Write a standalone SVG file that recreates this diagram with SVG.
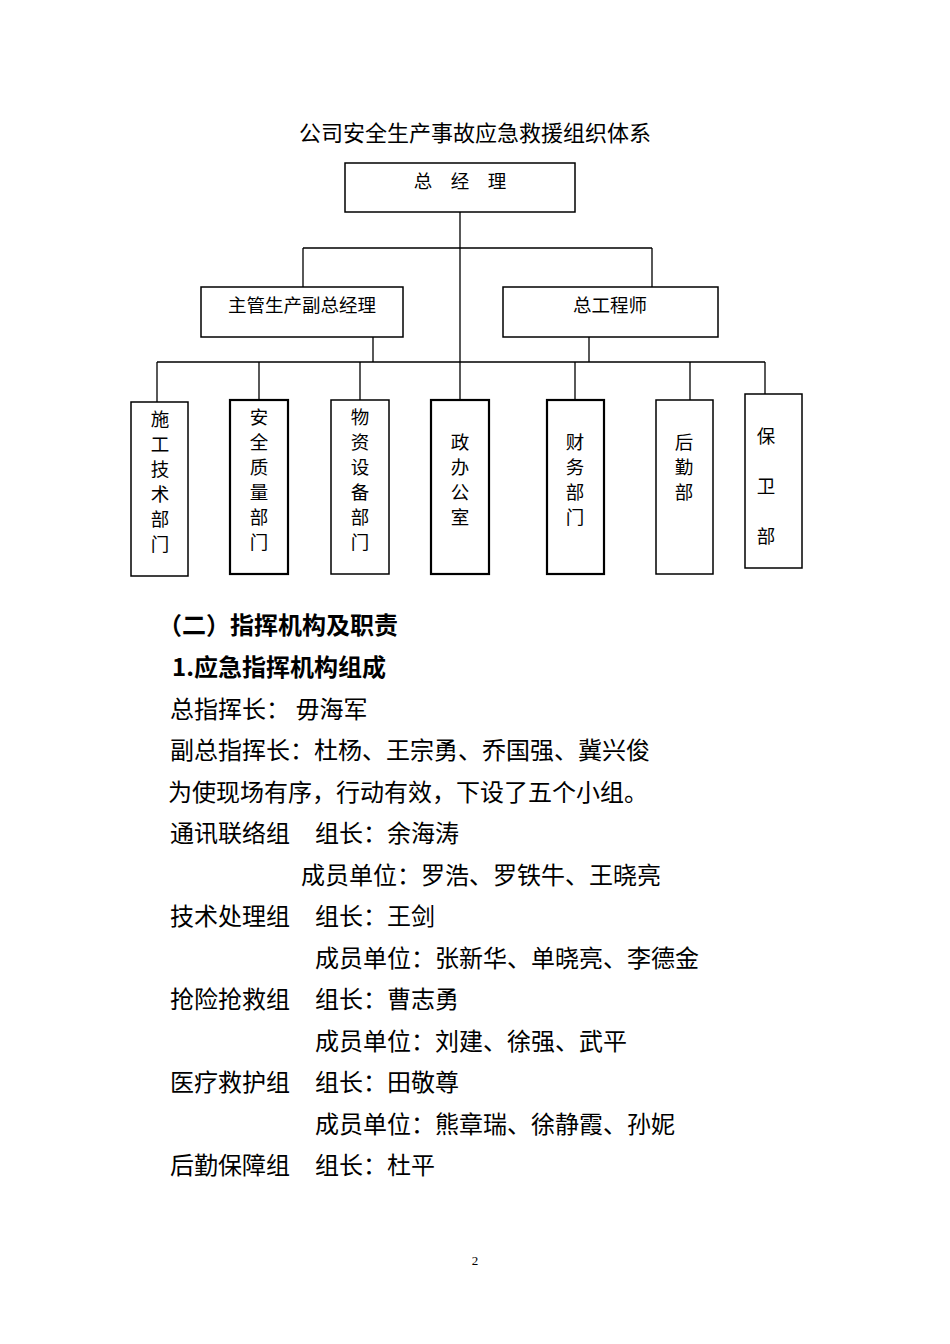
<svg xmlns="http://www.w3.org/2000/svg" width="950" height="1344" viewBox="0 0 950 1344">
<style>
.b{fill:#fff;stroke:#000;stroke-width:1.5}
.k{stroke-width:2.2}
.t{font-family:"Noto Sans CJK SC","Liberation Serif",serif;font-size:18.5px;fill:#000}
.m{text-anchor:middle}
.p{font-family:"Noto Sans CJK SC",sans-serif;font-size:24px;fill:#000}
.h{font-weight:bold}
</style>
<rect width="950" height="1344" fill="#fff"/>
<text class="t m" x="475" y="141" style="font-size:22px">公司安全生产事故应急救援组织体系</text>
<g id="connectors" stroke="#000" stroke-width="1.3" fill="none">
<path d="M460 212V400M303 248H652M303 248V287M652 248V287M373 337V362M589 337V362M157 362H765M157 362V402M259 362V400M360 362V400M575 362V400M690 362V400M765 362V394"/>
</g>
<g id="n0"><rect class="b" x="345" y="163" width="230" height="49"/><text class="t m" x="460" y="188">总　经　理</text></g>
<g id="n1"><rect class="b" x="201" y="287" width="202" height="50"/><text class="t m" x="302" y="312">主管生产副总经理</text></g>
<g id="n2"><rect class="b" x="503" y="287" width="215" height="50"/><text class="t m" x="610" y="312">总工程师</text></g>
<g id="d1"><rect class="b" x="131" y="402" width="57" height="174"/><text class="t m" x="160" y="426">施</text><text class="t m" x="160" y="451">工</text><text class="t m" x="160" y="476">技</text><text class="t m" x="160" y="501">术</text><text class="t m" x="160" y="526">部</text><text class="t m" x="160" y="551">门</text></g>
<g id="d2"><rect class="b k" x="230" y="400" width="58" height="174"/><text class="t m" x="259" y="424">安</text><text class="t m" x="259" y="449">全</text><text class="t m" x="259" y="474">质</text><text class="t m" x="259" y="499">量</text><text class="t m" x="259" y="524">部</text><text class="t m" x="259" y="549">门</text></g>
<g id="d3"><rect class="b" x="331" y="400" width="58" height="174"/><text class="t m" x="360" y="424">物</text><text class="t m" x="360" y="449">资</text><text class="t m" x="360" y="474">设</text><text class="t m" x="360" y="499">备</text><text class="t m" x="360" y="524">部</text><text class="t m" x="360" y="549">门</text></g>
<g id="d4"><rect class="b k" x="431" y="400" width="58" height="174"/><text class="t m" x="460" y="449">政</text><text class="t m" x="460" y="474">办</text><text class="t m" x="460" y="499">公</text><text class="t m" x="460" y="524">室</text></g>
<g id="d5"><rect class="b k" x="547" y="400" width="57" height="174"/><text class="t m" x="575" y="449">财</text><text class="t m" x="575" y="474">务</text><text class="t m" x="575" y="499">部</text><text class="t m" x="575" y="524">门</text></g>
<g id="d6"><rect class="b" x="656" y="400" width="57" height="174"/><text class="t m" x="684" y="449">后</text><text class="t m" x="684" y="474">勤</text><text class="t m" x="684" y="499">部</text></g>
<g id="d7"><rect class="b" x="745" y="394" width="57" height="174"/><text class="t m" x="766" y="443">保</text><text class="t m" x="766" y="493">卫</text><text class="t m" x="766" y="543">部</text></g>
<text class="p h" x="158" y="634">（二）指挥机构及职责</text>
<text class="p h" x="172" y="676">1.应急指挥机构组成</text>
<text class="p" x="170" y="718">总指挥长：  毋海军</text>
<text class="p" x="170" y="759">副总指挥长：杜杨、王宗勇、乔国强、冀兴俊</text>
<text class="p" x="168" y="801">为使现场有序，行动有效，下设了五个小组。</text>
<text class="p" x="170" y="842">通讯联络组</text><text class="p" x="315" y="842">组长：余海涛</text>
<text class="p" x="301" y="884">成员单位：罗浩、罗铁牛、王晓亮</text>
<text class="p" x="170" y="925">技术处理组</text><text class="p" x="315" y="925">组长：王剑</text>
<text class="p" x="315" y="967">成员单位：张新华、单晓亮、李德金</text>
<text class="p" x="170" y="1008">抢险抢救组</text><text class="p" x="315" y="1008">组长：曹志勇</text>
<text class="p" x="315" y="1050">成员单位：刘建、徐强、武平</text>
<text class="p" x="170" y="1091">医疗救护组</text><text class="p" x="315" y="1091">组长：田敬尊</text>
<text class="p" x="315" y="1133">成员单位：熊章瑞、徐静霞、孙妮</text>
<text class="p" x="170" y="1174">后勤保障组</text><text class="p" x="315" y="1174">组长：杜平</text>
<text x="475" y="1265" text-anchor="middle" style="font-family:'Liberation Serif',serif;font-size:13px">2</text>
</svg>
